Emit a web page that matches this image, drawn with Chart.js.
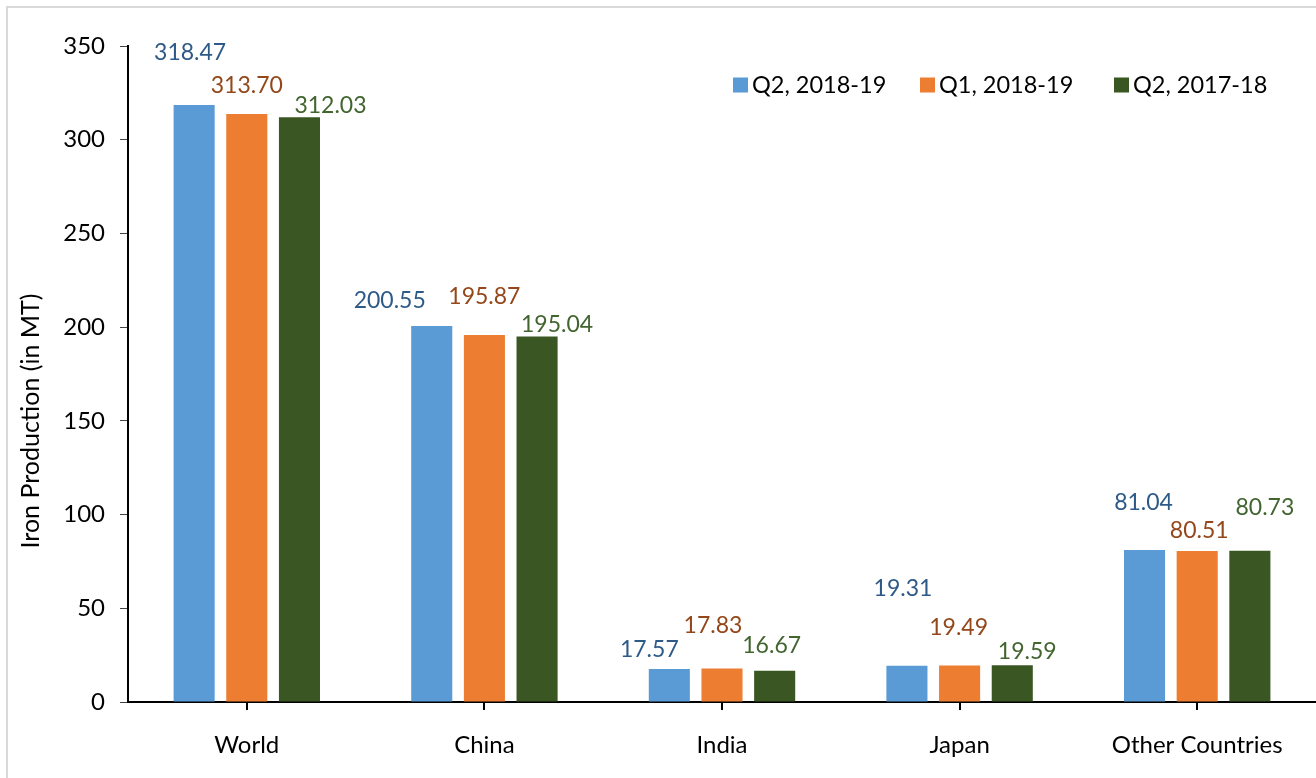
<!DOCTYPE html>
<html>
<head>
<meta charset="utf-8">
<script src="https://cdn.jsdelivr.net/npm/chart.js@4/dist/chart.umd.min.js"></script>
<style>
  html, body { margin: 0; padding: 0; background: #fff; }
  #wrap { position: relative; width: 1316px; height: 778px; overflow: hidden; }
  #frameTop { position: absolute; left: 6px; top: 6px; width: 1310px; height: 2px; background: #d9d9d9; }
  #frameLeft { position: absolute; left: 6px; top: 6px; width: 2px; height: 772px; background: #d9d9d9; }
  canvas { position: absolute; left: 0; top: 0; }
</style>
</head>
<body>
<div id="wrap">
  <div id="frameTop"></div>
  <div id="frameLeft"></div>
  <canvas id="c" width="1316" height="778"></canvas>
</div>
<script>
// ---- data ----
const categories = ["World", "China", "India", "Japan", "Other Countries"];
const seriesNames = ["Q2, 2018-19", "Q1, 2018-19", "Q2, 2017-18"];
const q2_2018_19 = [318.47, 200.55, 17.57, 19.31, 81.04];
const q1_2018_19 = [313.70, 195.87, 17.83, 19.49, 80.51];
const q2_2017_18 = [312.03, 195.04, 16.67, 19.59, 80.73];
const yTicks = [0, 50, 100, 150, 200, 250, 300, 350];
const yAxisTitle = "Iron Production (in MT)";

// ---- styles ----
const barColors = ["#5B9BD5", "#ED7D31", "#3A5723"];
const labelColors = ["#2E5A87", "#94471A", "#426530"];
// label offsets in px relative to bar top center [dx, dy]
const labelOffsets = [
  [[-4, -53], [-42, -26], [-20, -19], [-4, -77], [-1, -48]],
  [[0, -28], [0, -38], [-9, -43], [-1, -38], [2, -21]],
  [[31, -12], [20, -12], [-3, -25], [15, -14], [15, -43]]
];
const FONT = "Lato, 'Open Sans', sans-serif";

const valueLabels = {
  id: 'valueLabels',
  afterDatasetsDraw(chart) {
    const ctx = chart.ctx;
    ctx.save();
    ctx.font = "23px " + FONT;
    ctx.textAlign = "center";
    ctx.textBaseline = "middle";
    chart.data.datasets.forEach((ds, di) => {
      const meta = chart.getDatasetMeta(di);
      meta.data.forEach((el, i) => {
        const off = labelOffsets[di][i];
        ctx.fillStyle = labelColors[di];
        ctx.fillText(ds.data[i].toFixed(2), el.x + off[0], el.y + off[1]);
      });
    });
    ctx.restore();
  }
};

const customLegend = {
  id: 'customLegend',
  afterDraw(chart) {
    const ctx = chart.ctx;
    ctx.save();
    ctx.font = "23.5px " + FONT;
    ctx.textBaseline = "middle";
    ctx.textAlign = "left";
    const starts = [733, 920, 1114];
    const yc = 85;
    seriesNames.forEach((name, i) => {
      ctx.fillStyle = barColors[i];
      ctx.fillRect(starts[i], yc - 7.5, 15, 15);
      ctx.fillStyle = "#000";
      ctx.fillText(name, starts[i] + 19, yc);
    });
    ctx.restore();
  }
};

const yTitle = {
  id: 'yTitle',
  afterDraw(chart) {
    const ctx = chart.ctx;
    ctx.save();
    ctx.translate(31, 421);
    ctx.rotate(-Math.PI / 2);
    ctx.font = "25px " + FONT;
    ctx.fillStyle = "#000";
    ctx.textAlign = "center";
    ctx.textBaseline = "middle";
    ctx.fillText(yAxisTitle, 0, 0);
    ctx.restore();
  }
};

const seriesData = [q2_2018_19, q1_2018_19, q2_2017_18];

new Chart(document.getElementById('c'), {
  type: 'bar',
  data: {
    labels: categories,
    datasets: seriesNames.map((n, i) => ({
      label: n,
      data: seriesData[i],
      backgroundColor: barColors[i],
      borderWidth: 0,
      categoryPercentage: 0.665,
      barPercentage: 0.78
    }))
  },
  options: {
    responsive: false,
    animation: false,
    layout: { padding: { top: 46, right: 0, left: 0, bottom: 0 } },
    plugins: {
      legend: { display: false },
      tooltip: { enabled: false },
      title: { display: false }
    },
    scales: {
      x: {
        grid: { display: true, drawOnChartArea: false, offset: false, tickLength: 8, color: '#000', lineWidth: 2 },
        border: { display: true, color: '#000', width: 2 },
        ticks: { color: '#000', font: { family: FONT, size: 24 }, padding: 21 },
        afterFit(scale) { scale.height = 76; }
      },
      y: {
        min: 0, max: 350,
        afterBuildTicks(scale) { scale.ticks = yTicks.map(v => ({ value: v })); },
        grid: { display: true, drawOnChartArea: false, tickLength: 8, color: '#444', lineWidth: 1 },
        border: { display: true, color: '#000', width: 2 },
        ticks: { color: '#000', font: { family: FONT, size: 24 }, padding: 15 },
        afterFit(scale) { scale.width = 128; }
      }
    }
  },
  plugins: [valueLabels, customLegend, yTitle]
});
</script>
</body>
</html>
